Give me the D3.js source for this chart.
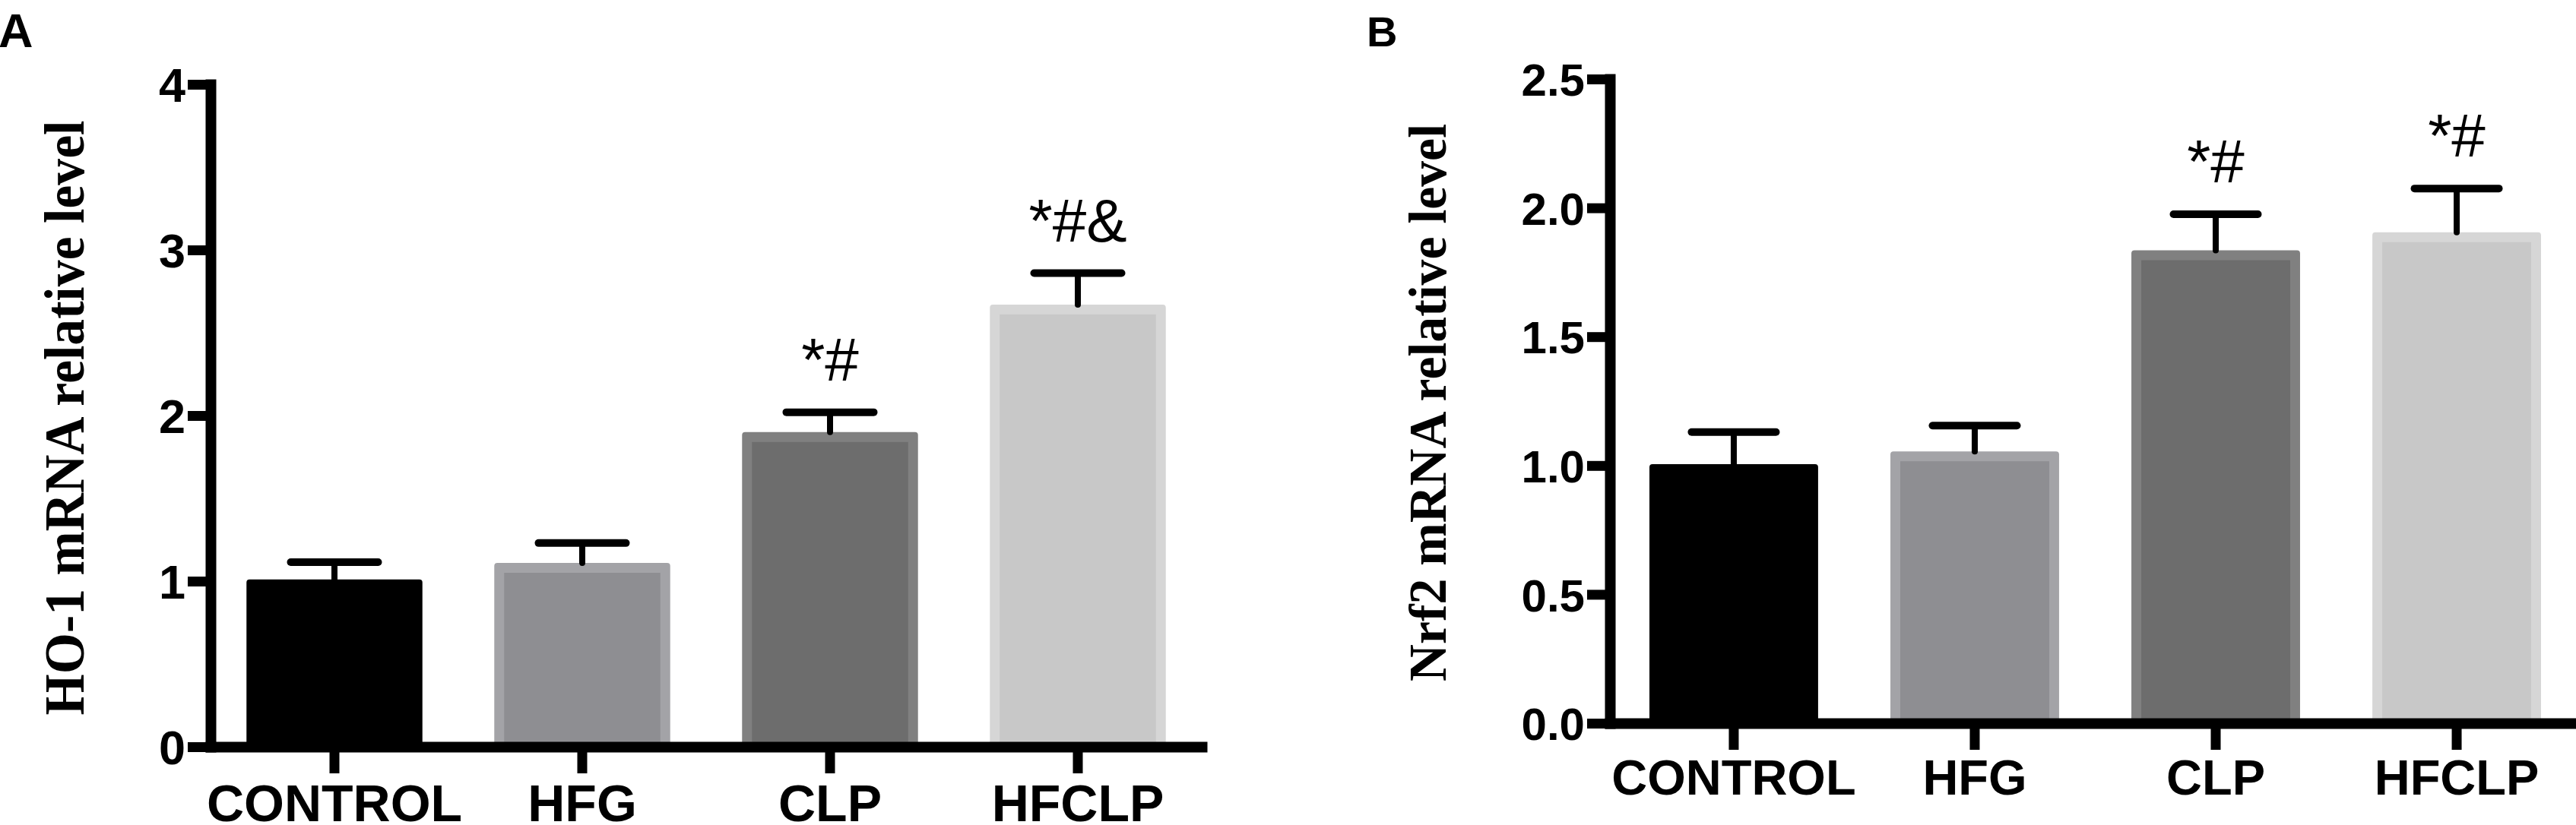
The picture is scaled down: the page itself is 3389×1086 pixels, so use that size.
<!doctype html>
<html lang="en">
<head>
<meta charset="utf-8">
<style>
  body, html { margin: 0; padding: 0; background: #fff; overflow: hidden; }
  svg { display: block; }
</style>
</head>
<body>
<div id="chart"></div>
<script src="https://d3js.org/d3.v7.min.js"></script>
<script>

// values
const groups = ["CONTROL", "HFG", "CLP", "HFCLP"];

const ho1Mean = [1.01, 1.11, 1.90, 2.67];
const ho1Sem  = [0.105, 0.12, 0.12, 0.19];
const ho1Marks = ["", "", "*#", "*#&"];
const ho1Ticks = [0, 1, 2, 3, 4];

const nrf2Mean = [1.005, 1.055, 1.835, 1.905];
const nrf2Sem  = [0.125, 0.10, 0.14, 0.17];
const nrf2Marks = ["", "", "*#", "*#"];
const nrf2Ticks = [0, 0.5, 1.0, 1.5, 2.0, 2.5];

const barEdge = ["#000000", "#a3a3a7", "#808080", "#d6d6d6"];
const barFill = ["#000000", "#8e8e92", "#6d6d6d", "#c8c8c8"];

const W = 3389, H = 1086;

const svg = d3.select("#chart").append("svg")
  .attr("width", W)
  .attr("height", H)
  .attr("viewBox", `0 0 ${W} ${H}`);

const sans = "'Liberation Sans', Arial, sans-serif";
const serif = "'Liberation Serif', 'Times New Roman', serif";

const drawPanel = (o) => {
  const g = svg.append("g");

  const y = d3.scaleLinear().domain(o.yDomain).range([o.y0, o.yTop]);
  const x = d3.scaleBand().domain(groups)
    .range([o.axisX, o.xEnd])
    .paddingInner(o.padIn)
    .paddingOuter(o.padOut);

  const rows = groups.map((k, i) => ({
    key: k, mean: o.mean[i], sem: o.sem[i], mark: o.marks[i],
    edge: barEdge[i], fill: barFill[i]
  }));

  // bars: lighter outer rect, darker inner rect
  const bw = x.bandwidth();
  const inset = 13;
  g.selectAll("rect.outer").data(rows).enter().append("rect")
    .attr("class", "outer")
    .attr("x", (d) => x(d.key))
    .attr("y", (d) => y(d.mean))
    .attr("width", bw)
    .attr("height", (d) => y(0) - y(d.mean))
    .attr("rx", 4)
    .style("fill", (d) => d.edge);

  g.selectAll("rect.inner").data(rows).enter().append("rect")
    .attr("class", "inner")
    .attr("x", (d) => x(d.key) + inset)
    .attr("y", (d) => y(d.mean) + inset)
    .attr("width", bw - 2 * inset)
    .attr("height", (d) => y(0) - y(d.mean) - inset)
    .style("fill", (d) => d.fill);

  // error bars (upper only)
  const cap = o.cap;
  const eb = g.selectAll("g.err").data(rows).enter().append("g").attr("class", "err");
  eb.append("line")
    .attr("x1", (d) => x(d.key) + bw / 2)
    .attr("x2", (d) => x(d.key) + bw / 2)
    .attr("y1", (d) => y(d.mean))
    .attr("y2", (d) => y(d.mean + d.sem))
    .style("stroke", "#000")
    .style("stroke-width", 8)
    .style("stroke-linecap", "round");
  eb.append("line")
    .attr("x1", (d) => x(d.key) + bw / 2 - cap / 2)
    .attr("x2", (d) => x(d.key) + bw / 2 + cap / 2)
    .attr("y1", (d) => y(d.mean + d.sem))
    .attr("y2", (d) => y(d.mean + d.sem))
    .style("stroke", "#000")
    .style("stroke-width", 10)
    .style("stroke-linecap", "round");

  // significance marks
  g.selectAll("text.mark").data(rows).enter().append("text")
    .attr("class", "mark")
    .attr("x", (d) => x(d.key) + bw / 2)
    .attr("y", (d) => y(d.mean + d.sem) - 42)
    .attr("text-anchor", "middle")
    .style("font-family", sans)
    .style("font-size", "80px")
    .text((d) => d.mark);

  // y axis
  const yAxis = g.append("g")
    .attr("transform", `translate(${o.axisX},0)`)
    .call(d3.axisLeft(y).tickValues(o.ticks).tickFormat(o.fmt)
      .tickSize(30).tickSizeOuter(0).tickPadding(3));
  yAxis.select(".domain").style("stroke-width", 14).style("stroke-linecap", "square");
  yAxis.selectAll(".tick line").style("stroke-width", 13);
  yAxis.selectAll(".tick text")
    .style("font-family", sans)
    .style("font-weight", "bold")
    .style("font-size", o.tickFont + "px")
    .attr("dy", "0.36em");

  // x axis
  const xAxis = g.append("g")
    .attr("transform", `translate(0,${o.y0})`)
    .call(d3.axisBottom(x).tickSize(35).tickSizeOuter(0).tickPadding(0));
  xAxis.select(".domain").style("stroke-width", 14).style("stroke-linecap", "square");
  xAxis.selectAll(".tick line").style("stroke-width", 13);
  xAxis.selectAll(".tick text")
    .style("font-family", sans)
    .style("font-weight", "bold")
    .style("font-size", o.labFont + "px")
    .attr("dy", null)
    .attr("y", o.labBase - o.y0);

  // y title
  g.append("text")
    .attr("transform", `translate(${o.titleX},${o.titleY}) rotate(-90)`)
    .attr("text-anchor", "middle")
    .attr("textLength", o.titleLen)
    .attr("lengthAdjust", "spacingAndGlyphs")
    .style("font-family", serif)
    .style("font-weight", "bold")
    .style("font-size", o.titleFont + "px")
    .text(o.title);

  // panel letter
  g.append("text")
    .attr("x", o.letterX)
    .attr("y", o.letterY)
    .style("font-family", sans)
    .style("font-weight", "bold")
    .style("font-size", o.letterFont + "px")
    .text(o.letter);
};

drawPanel({
  letter: "A", letterX: -2, letterY: 62, letterFont: 63,
  title: "HO-1 mRNA relative level", titleX: 110, titleY: 550, titleFont: 73, titleLen: 783,
  yDomain: [0, 4], y0: 983, yTop: 111, ticks: ho1Ticks, fmt: d3.format("d"),
  axisX: 277, xEnd: 1581, padIn: 0.29, padOut: 0.145, cap: 115,
  mean: ho1Mean, sem: ho1Sem, marks: ho1Marks,
  tickFont: 63, labFont: 68, labBase: 1081
});

drawPanel({
  letter: "B", letterX: 1798, letterY: 61, letterFont: 56,
  title: "Nrf2 mRNA relative level", titleX: 1902, titleY: 530, titleFont: 70, titleLen: 734,
  yDomain: [0, 2.5], y0: 952, yTop: 104, ticks: nrf2Ticks, fmt: d3.format(".1f"),
  axisX: 2118, xEnd: 3395, padIn: 0.30, padOut: 0.164, cap: 111,
  mean: nrf2Mean, sem: nrf2Sem, marks: nrf2Marks,
  tickFont: 60, labFont: 65, labBase: 1046
});

</script>
</body>
</html>
